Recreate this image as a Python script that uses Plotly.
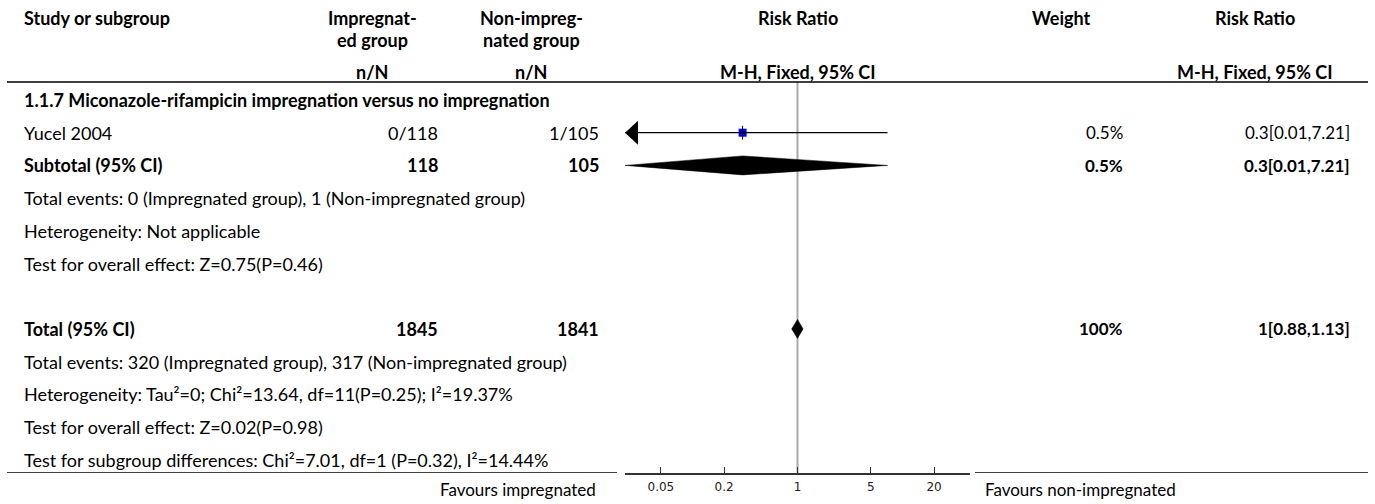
import math
import plotly.graph_objects as go

# ---------------- data ----------------
group_title = "1.1.7 Miconazole-rifampicin impregnation versus no impregnation"
study_labels = ["Yucel 2004"]
exp_events = [0]
exp_totals = [118]
ctrl_events = [1]
ctrl_totals = [105]
study_rr = [0.3]
study_lo = [0.01]
study_hi = [7.21]
study_weight = ["0.5%"]

subtotal_n = [118, 105]
subtotal_rr = [0.3, 0.01, 7.21]
subtotal_weight = "0.5%"

total_n = [1845, 1841]
total_rr = [1, 0.88, 1.13]
total_weight = "100%"

subgroup_notes = [
    "Total events: 0 (Impregnated group), 1 (Non-impregnated group)",
    "Heterogeneity: Not applicable",
    "Test for overall effect: Z=0.75(P=0.46)",
]
total_notes = [
    "Total events: 320 (Impregnated group), 317 (Non-impregnated group)",
    "Heterogeneity: Tau²=0; Chi²=13.64, df=11(P=0.25); I²=19.37%",
    "Test for overall effect: Z=0.02(P=0.98)",
    "Test for subgroup differences: Chi²=7.01, df=1 (P=0.32), I²=14.44%",
]
tick_vals = [0.05, 0.2, 1, 5, 20]
tick_text = ["0.05", "0.2", "1", "5", "20"]
favours_left = "Favours impregnated"
favours_right = "Favours non-impregnated"

# ---------------- layout constants ----------------
W, H = 1375, 504
FONT = "Source Sans Pro, Lato, Roboto, sans-serif"
TICKFONT = "DejaVu Sans, Verdana, sans-serif"
FS = 18
NFS = 17
PLOT_L, PLOT_R = 625, 970
AXIS_Y = 473
DEC = 1.643
X_LABEL = 22
X_EXP = 440
X_CTRL = 601
X_EXP_H = 372
X_CTRL_H = 531
X_RR_H = 798
X_W = 1125
X_W_H = 1061
X_RRT = 1352
X_RRT_H = 1255

ROW_H1, ROW_H2, ROW_H3 = 18, 40, 72
LINE_TOP = 82
ROW_GROUP = 100
PITCH = 32.7
ROW_STUDY = ROW_GROUP + PITCH
ROW_SUB = ROW_GROUP + 2 * PITCH
ROW_TOTAL = ROW_GROUP + 7 * PITCH
ROW_LABELS = 489

fig = go.Figure()
annotations = []


def txt(xpx, ypx, text, anchor="left", bold=False, size=FS, family=FONT, color="#000"):
    annotations.append(dict(
        x=xpx / W, y=1 - ypx / H, xref="paper", yref="paper",
        text=f"<b>{text}</b>" if bold else text,
        xanchor=anchor, yanchor="middle", showarrow=False,
        font=dict(family=family, size=size, color=color),
    ))


# headers
txt(X_LABEL, ROW_H1, "Study or subgroup", bold=True)
txt(X_EXP_H, ROW_H1, "Impregnat-", "center", True)
txt(X_EXP_H, ROW_H2, "ed group", "center", True)
txt(X_EXP_H, ROW_H3, "n/N", "center", True)
txt(X_CTRL_H, ROW_H1, "Non-impreg-", "center", True)
txt(X_CTRL_H, ROW_H2, "nated group", "center", True)
txt(X_CTRL_H, ROW_H3, "n/N", "center", True)
txt(X_RR_H, ROW_H1, "Risk Ratio", "center", True)
txt(X_RR_H, ROW_H3, "M-H, Fixed, 95% CI", "center", True)
txt(X_W_H, ROW_H1, "Weight", "center", True)
txt(X_RRT_H, ROW_H1, "Risk Ratio", "center", True)
txt(X_RRT_H, ROW_H3, "M-H, Fixed, 95% CI", "center", True)


def fmt_rr(rr, lo, hi):
    return f"{rr:g}[{lo:g},{hi:g}]"


# subgroup
txt(X_LABEL, ROW_GROUP, group_title, bold=True)
for i, lab in enumerate(study_labels):
    y = ROW_STUDY + i * PITCH
    txt(X_LABEL, y, lab)
    txt(X_EXP, y, f"{exp_events[i]}/{exp_totals[i]}", "right")
    txt(X_CTRL, y, f"{ctrl_events[i]}/{ctrl_totals[i]}", "right")
    txt(X_W, y, study_weight[i], "right", size=NFS)
    txt(X_RRT, y, fmt_rr(study_rr[i], study_lo[i], study_hi[i]), "right", size=NFS)

txt(X_LABEL, ROW_SUB, "Subtotal (95% CI)", bold=True)
txt(X_EXP, ROW_SUB, str(subtotal_n[0]), "right", True)
txt(X_CTRL, ROW_SUB, str(subtotal_n[1]), "right", True)
txt(X_W, ROW_SUB, subtotal_weight, "right", True, NFS)
txt(X_RRT, ROW_SUB, fmt_rr(*subtotal_rr), "right", True, NFS)
for k, note in enumerate(subgroup_notes):
    txt(X_LABEL, ROW_SUB + (k + 1) * PITCH, note)

txt(X_LABEL, ROW_TOTAL, "Total (95% CI)", bold=True)
txt(X_EXP, ROW_TOTAL, str(total_n[0]), "right", True)
txt(X_CTRL, ROW_TOTAL, str(total_n[1]), "right", True)
txt(X_W, ROW_TOTAL, total_weight, "right", True, NFS)
txt(X_RRT, ROW_TOTAL, fmt_rr(*total_rr), "right", True, NFS)
for k, note in enumerate(total_notes):
    txt(X_LABEL, ROW_TOTAL + (k + 1) * PITCH, note)

txt(598, ROW_LABELS, favours_left, "right", size=17)
txt(983, ROW_LABELS, favours_right, "left", size=17)

# ---------------- forest marks ----------------
xmin, xmax = 10 ** -DEC, 10 ** DEC
px_per_dec = (PLOT_R - PLOT_L) / (2 * DEC)


def clamp(v):
    return min(max(v, xmin), xmax)


for i in range(len(study_labels)):
    y = ROW_STUDY + i * PITCH
    lo, hi, rr = study_lo[i], study_hi[i], study_rr[i]
    fig.add_trace(go.Scatter(x=[rr], y=[y], mode="markers",
                             marker=dict(symbol="square", size=8, color="#0000ff",
                                         line=dict(width=0)), hoverinfo="skip"))
    fig.add_trace(go.Scatter(x=[clamp(lo), clamp(hi)], y=[y, y], mode="lines",
                             line=dict(color="black", width=1.3), hoverinfo="skip"))
    fig.add_trace(go.Scatter(x=[rr], y=[y], mode="markers",
                             marker=dict(symbol="line-ns", size=10, color="black",
                                         line=dict(width=1, color="black")), hoverinfo="skip"))
    if lo < xmin:
        base = xmin * 10 ** (13 / px_per_dec)
        fig.add_trace(go.Scatter(x=[xmin, base, base, xmin], y=[y, y - 12, y + 12, y],
                                 mode="lines", fill="toself", fillcolor="black",
                                 line=dict(color="black", width=0), hoverinfo="skip"))
    if hi > xmax:
        base = xmax / 10 ** (13 / px_per_dec)
        fig.add_trace(go.Scatter(x=[xmax, base, base, xmax], y=[y, y - 12, y + 12, y],
                                 mode="lines", fill="toself", fillcolor="black",
                                 line=dict(color="black", width=0), hoverinfo="skip"))


def diamond(vals, y, half=9.5):
    rr, lo, hi = vals
    xs = [clamp(lo), rr, clamp(hi), rr, clamp(lo)]
    ys = [y, y - half, y, y + half, y]
    fig.add_trace(go.Scatter(x=xs, y=ys, mode="lines", fill="toself", fillcolor="black",
                             line=dict(color="black", width=0.5), hoverinfo="skip"))


diamond(subtotal_rr, ROW_SUB)
diamond(total_rr, ROW_TOTAL)

shapes = [
    dict(type="line", xref="x", yref="y", x0=1, x1=1, y0=LINE_TOP, y1=AXIS_Y,
         line=dict(color="#a9a9a9", width=2), layer="below"),
    dict(type="line", xref="paper", yref="y", x0=7 / W, x1=1368 / W, y0=LINE_TOP, y1=LINE_TOP,
         line=dict(color="black", width=1.5)),
    dict(type="line", xref="paper", yref="y", x0=7 / W, x1=617 / W, y0=AXIS_Y, y1=AXIS_Y,
         line=dict(color="black", width=1.5)),
    dict(type="line", xref="paper", yref="y", x0=975 / W, x1=1368 / W, y0=AXIS_Y, y1=AXIS_Y,
         line=dict(color="black", width=1.5)),
]

fig.update_layout(
    width=W, height=H, margin=dict(l=0, r=0, t=0, b=0),
    plot_bgcolor="white", paper_bgcolor="white", showlegend=False,
    annotations=annotations, shapes=shapes,
    xaxis=dict(type="log", domain=[PLOT_L / W, PLOT_R / W], range=[-DEC, DEC],
               tickvals=tick_vals, ticktext=tick_text, ticks="inside", ticklen=6,
               tickcolor="#333", tickwidth=1.2, showline=True, linecolor="#333",
               linewidth=1.8, showgrid=False, zeroline=False,
               tickfont=dict(family=TICKFONT, size=12, color="#222"),
               ticklabelstandoff=2, fixedrange=True),
    yaxis=dict(range=[AXIS_Y, 0], domain=[(H - AXIS_Y) / H, 1], visible=False,
               showgrid=False, zeroline=False, fixedrange=True),
)

fig.write_html("out.html")
